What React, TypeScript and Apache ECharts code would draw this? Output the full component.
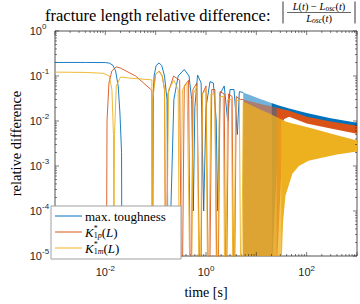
import React, { useEffect, useRef } from "react";
import * as echarts from "echarts";

// ---------- data ----------
const seriesNames = ["max. toughness", "K1p", "K1m"];
const colors = ["#0072BD", "#D95319", "#EDB120"];

const xMajorTicks = [1e-3, 1e-2, 1e-1, 1e0, 1e1, 1e2, 1e3];
const xLabelExps = [-2, 0, 2];
const yMajorTicks = [1e-5, 1e-4, 1e-3, 1e-2, 1e-1, 1e0];
const yLabelExps = [-5, -4, -3, -2, -1, 0];

// individual arches (time [s], relative difference)
const toughness: [number, number][] = [
  [1e-3, 0.2], [0.004, 0.2], [0.01, 0.199], [0.012, 0.193], [0.014, 0.175], [0.016, 0.13],
  [0.018, 0.06], [0.0195, 0.015], [0.021, 0.002], [0.0215, 1e-7],
  [0.085, 1e-7], [0.088, 0.02], [0.093, 0.1], [0.102, 0.17], [0.117, 0.195], [0.132, 0.17],
  [0.15, 0.1], [0.168, 0.03], [0.18, 1e-7],
  [0.2, 1e-4], [0.23, 0.03], [0.28, 0.1], [0.37, 0.14], [0.46, 0.1], [0.52, 0.03], [0.56, 1e-4],
  [0.6, 0.02], [0.68, 0.105], [0.8, 0.07], [0.9, 1e-4],
  [1.0, 0.02], [1.2, 0.075], [1.4, 0.07], [1.6, 0.01], [1.7, 1e-4],
  [1.9, 0.04], [2.3, 0.06], [2.7, 0.01], [3.0, 0.05], [3.6, 0.05], [4.2, 0.005], [4.6, 0.045], [5.5, 0.043],
];
const k1p: [number, number][] = [
  [0.0104, 1e-7], [0.0108, 0.01], [0.0118, 0.07], [0.0135, 0.13], [0.0165, 0.16], [0.02, 0.15],
  [0.04, 0.1], [0.084, 0.048], [0.086, 1e-7], [0.087, 1e-7], [0.09, 0.05], [0.1, 0.11], [0.117, 0.128],
  [0.135, 0.1], [0.15, 0.05], [0.16, 1e-7],
  [0.175, 0.04], [0.227, 0.1], [0.3, 0.08], [0.33, 1e-7], [0.37, 0.06], [0.45, 0.08], [0.5, 1e-7],
  [0.55, 0.05], [0.66, 0.07], [0.78, 1e-7], [0.85, 0.04], [1.0, 0.06], [1.15, 1e-7], [1.3, 0.05],
  [1.5, 0.05], [1.7, 1e-7], [1.9, 0.045], [2.3, 0.04], [2.5, 1e-7], [2.8, 0.04], [3.3, 0.035], [3.6, 1e-7],
  [4.0, 0.035], [4.8, 0.03], [5.5, 0.03],
];
const k1m: [number, number][] = [
  [1e-3, 0.122], [0.004, 0.12], [0.009, 0.115], [0.012, 0.1], [0.0135, 0.05], [0.0145, 0.005],
  [0.0148, 1e-7], [0.0152, 0.005], [0.0165, 0.06], [0.02, 0.095], [0.03, 0.09], [0.084, 0.082],
  [0.086, 1e-7], [0.088, 0.03], [0.1, 0.11], [0.117, 0.128], [0.135, 0.1], [0.15, 0.05], [0.16, 1e-7],
  [0.18, 0.05], [0.23, 0.08], [0.28, 0.05], [0.3, 1e-7], [0.34, 0.05], [0.42, 0.07], [0.5, 1e-7],
  [0.56, 0.04], [0.66, 0.06], [0.75, 1e-7], [0.85, 0.04], [1.0, 0.05], [1.1, 1e-7], [1.25, 0.04],
  [1.5, 0.04], [1.65, 1e-7], [1.85, 0.035], [2.2, 0.035], [2.4, 1e-7], [2.7, 0.03], [3.2, 0.03],
  [3.5, 1e-7], [3.9, 0.03], [4.6, 0.028], [5.0, 1e-7], [5.5, 0.027],
];

// dense oscillations that still dip to zero: (time, upper envelope)
const toughnessDips: [number, number][] = [[5.5, 0.043], [12, 0.031], [20, 0.025]];
const k1pDips: [number, number][] = [[5.5, 0.03], [12, 0.024], [25, 0.02]];
const k1mDips: [number, number][] = [[5.5, 0.027], [12, 0.018], [20, 0.014], [31, 0.011]];

// dense oscillations, solid band: (time, upper envelope, lower envelope)
const toughnessBand: [number, number, number][] = [
  [20, 0.025, 1e-6], [28, 0.022, 0.008], [45, 0.019, 0.015], [100, 0.015, 0.012], [300, 0.0115, 0.0092], [1000, 0.0091, 0.0071],
];
const k1pBand: [number, number, number][] = [
  [25, 0.02, 1e-6], [35, 0.018, 0.011], [45, 0.017, 0.0125], [100, 0.0125, 0.0088], [300, 0.0098, 0.0068], [1000, 0.0078, 0.0052],
];
const k1mBand: [number, number, number][] = [
  [31, 0.011, 1e-6], [34, 0.0105, 6e-5], [38, 0.0098, 0.00022], [52, 0.0088, 0.00067], [70, 0.0082, 0.001],
  [109, 0.0072, 0.0013], [190, 0.0061, 0.0015], [400, 0.0048, 0.0018], [1000, 0.0037, 0.0021],
];

const SERIF = "'Liberation Serif', 'DejaVu Serif', serif";
const SANS = "'Liberation Sans', Arial, sans-serif";
const AX = "#262626";

let ctx2d: CanvasRenderingContext2D | null = null;
const tw = (text: string, font: string) => {
  if (!ctx2d) ctx2d = document.createElement("canvas").getContext("2d");
  if (!ctx2d) return text.length * 6;
  ctx2d.font = font;
  return ctx2d.measureText(text).width;
};

type Tok = { t: string; f: string; dy?: number; stack?: Tok };
// lays out tokens left-to-right; a token may carry a stacked partner (super/sub at same x)
const layoutTokens = (toks: Tok[], x: number, y: number, z = 101) => {
  const els: any[] = [];
  let cx = x;
  for (const k of toks) {
    els.push({ type: "text", x: cx, y: y + (k.dy || 0), z, style: { text: k.t, font: k.f, fill: "#000", verticalAlign: "middle" } });
    let w = tw(k.t, k.f);
    if (k.stack) {
      els.push({ type: "text", x: cx, y: y + (k.stack.dy || 0), z, style: { text: k.stack.t, font: k.stack.f, fill: "#000", verticalAlign: "middle" } });
      w = Math.max(w, tw(k.stack.t, k.stack.f));
    }
    cx += w;
  }
  return { els, width: cx - x };
};

export default function App() {
  const ref = useRef<HTMLDivElement>(null);
  useEffect(() => {
    if (!ref.current) return;
    const chart = echarts.init(ref.current, undefined, { renderer: "svg" });

    const bandSeries = (band: [number, number, number][], color: string, opacity: number) => ({
      type: "custom",
      clip: true,
      silent: true,
      data: [0],
      renderItem: (_p: any, api: any) => {
        const up = band.map((d) => api.coord([d[0], d[1]]));
        const lo = band.map((d) => api.coord([d[0], Math.max(d[2], 3e-6)])).reverse();
        return {
          type: "polygon",
          shape: { points: up.concat(lo) },
          style: { fill: color, opacity },
        };
      },
    });
    const dipSeries = (dips: [number, number][], color: string, opacity: number) =>
      bandSeries(dips.map((d) => [d[0], d[1], 1e-6] as [number, number, number]), color, opacity);

    const tickLine = (x1: number, y1: number, x2: number, y2: number) => ({
      type: "line", shape: { x1, y1, x2, y2 }, style: { stroke: AX, lineWidth: 0.6 },
    });
    const BASEF = `11px ${SANS}`;
    const EXPF = `8px ${SANS}`;

    const xTickSeries = {
      type: "custom",
      silent: true,
      clip: false,
      data: xMajorTicks.map((v) => [v]),
      renderItem: (_p: any, api: any) => {
        const v = api.value(0);
        const e = Math.round(Math.log10(v));
        const b = api.coord([v, 1e-5]);
        const t = api.coord([v, 1]);
        const children: any[] = [tickLine(b[0], b[1], b[0], b[1] - 4), tickLine(t[0], t[1], t[0], t[1] + 4)];
        if (v < 1e3) {
          for (let m = 2; m <= 9; m++) {
            const bb = api.coord([v * m, 1e-5]);
            const tt = api.coord([v * m, 1]);
            children.push(tickLine(bb[0], bb[1], bb[0], bb[1] - 2));
            children.push(tickLine(tt[0], tt[1], tt[0], tt[1] + 2));
          }
        }
        if (xLabelExps.indexOf(e) >= 0) {
          const w1 = tw("10", BASEF);
          const w2 = tw(String(e), EXPF);
          const x0 = b[0] - (w1 + w2) / 2;
          children.push({ type: "text", x: x0, y: b[1] + 21, style: { text: "10", fill: AX, font: BASEF, align: "left", verticalAlign: "bottom" } });
          children.push({ type: "text", x: x0 + w1, y: b[1] + 16, style: { text: String(e), fill: AX, font: EXPF, align: "left", verticalAlign: "bottom" } });
        }
        return { type: "group", children };
      },
    };

    const yTickSeries = {
      type: "custom",
      silent: true,
      clip: false,
      data: yMajorTicks.map((v) => [v]),
      renderItem: (_p: any, api: any) => {
        const v = api.value(0);
        const e = Math.round(Math.log10(v));
        const l = api.coord([1e-3, v]);
        const r = api.coord([1e3, v]);
        const children: any[] = [tickLine(l[0], l[1], l[0] + 4, l[1]), tickLine(r[0], r[1], r[0] - 4, r[1])];
        if (v < 1) {
          for (let m = 2; m <= 9; m++) {
            const ll = api.coord([1e-3, v * m]);
            const rr = api.coord([1e3, v * m]);
            children.push(tickLine(ll[0], ll[1], ll[0] + 2, ll[1]));
            children.push(tickLine(rr[0], rr[1], rr[0] - 2, rr[1]));
          }
        }
        if (yLabelExps.indexOf(e) >= 0) {
          children.push({ type: "text", x: l[0] - 13, y: l[1] + 5, style: { text: "10", fill: AX, font: BASEF, align: "right", verticalAlign: "bottom" } });
          children.push({ type: "text", x: l[0] - 13, y: l[1] - 1, style: { text: String(e), fill: AX, font: EXPF, align: "left", verticalAlign: "bottom" } });
        }
        return { type: "group", children };
      },
    };

    const lineSeries = (name: string, data: [number, number][], color: string) => ({
      name,
      type: "line",
      data,
      showSymbol: false,
      clip: true,
      lineStyle: { color, width: 0.9 },
      itemStyle: { color },
    });

    // ---------- legend (drawn) ----------
    const legX = 51, legY = 206;
    const legRow = (i: number) => legY + 10 + i * 16;
    const F = `13px ${SERIF}`;
    const FI = `italic 13px ${SERIF}`;
    const FS = `8px ${SERIF}`;
    const FSI = `italic 8px ${SERIF}`;
    const kTokens = (sub: string): Tok[] => [
      { t: "K", f: FI },
      { t: "*", f: FS, dy: -4, stack: { t: "1", f: FS, dy: 3.5 } },
      { t: sub, f: FSI, dy: 3.5 },
      { t: "(", f: F },
      { t: "L", f: FI },
      { t: ")", f: F },
    ];
    const row1 = layoutTokens(kTokens("p"), legX + 34, legRow(1));
    const row2 = layoutTokens(kTokens("m"), legX + 34, legRow(2));

    // ---------- title fraction ----------
    const NF = `10.5px ${SERIF}`;
    const NI = `italic 10.5px ${SERIF}`;
    const SI = `italic 7.5px ${SERIF}`;
    const numToks: Tok[] = [
      { t: "L", f: NI }, { t: "(", f: NF }, { t: "t", f: NI }, { t: ")", f: NF }, { t: " − ", f: NF },
      { t: "L", f: NI }, { t: "osc", f: SI, dy: 2 }, { t: "(", f: NF }, { t: "t", f: NI }, { t: ")", f: NF },
    ];
    const denToks: Tok[] = [
      { t: "L", f: NI }, { t: "osc", f: SI, dy: 2 }, { t: "(", f: NF }, { t: "t", f: NI }, { t: ")", f: NF },
    ];
    const fracCx = 319;
    const numW = layoutTokens(numToks, 0, 0).width;
    const denW = layoutTokens(denToks, 0, 0).width;
    const num = layoutTokens(numToks, fracCx - numW / 2, 6.5, 1);
    const den = layoutTokens(denToks, fracCx - denW / 2, 18, 1);

    const graphic: any[] = [
      { type: "rect", shape: { x: legX, y: legY, width: 130, height: 53 }, style: { fill: "#fff", stroke: "#a0a0a0", lineWidth: 1 }, z: 100 },
      ...colors.map((c, i) => ({ type: "line", shape: { x1: legX + 4, y1: legRow(i), x2: legX + 31, y2: legRow(i) }, style: { stroke: c, lineWidth: 1 }, z: 101 })),
      { type: "text", x: legX + 34, y: legRow(0), style: { text: seriesNames[0], font: F, fill: "#000", verticalAlign: "middle" }, z: 101 },
      ...row1.els,
      ...row2.els,
      // title
      { type: "text", x: 45, y: 15, style: { text: "fracture length relative difference:", font: `16.5px ${SERIF}`, fill: "#000", verticalAlign: "middle" } },
      { type: "line", shape: { x1: 283, y1: 1.5, x2: 283, y2: 23.5 }, style: { stroke: "#000", lineWidth: 0.8 } },
      { type: "line", shape: { x1: 355, y1: 1.5, x2: 355, y2: 23.5 }, style: { stroke: "#000", lineWidth: 0.8 } },
      { type: "line", shape: { x1: 287, y1: 12.5, x2: 351, y2: 12.5 }, style: { stroke: "#000", lineWidth: 0.6 } },
      ...num.els,
      ...den.els,
    ];

    chart.setOption({
      animation: false,
      grid: { left: 44, top: 31, width: 313, height: 235, show: true, borderColor: AX, borderWidth: 0.8, backgroundColor: "transparent" },
      xAxis: {
        type: "log", logBase: 10, min: 1e-3, max: 1e3,
        axisLine: { show: false }, axisTick: { show: false }, axisLabel: { show: false }, splitLine: { show: false },
        name: "time [s]", nameLocation: "middle", nameGap: 29,
        nameTextStyle: { fontFamily: SERIF, fontSize: 14, color: "#000" },
      },
      yAxis: {
        type: "log", logBase: 10, min: 1e-5, max: 1,
        axisLine: { show: false }, axisTick: { show: false }, axisLabel: { show: false }, splitLine: { show: false },
        name: "relative difference", nameLocation: "middle", nameGap: 32, nameRotate: 90,
        nameTextStyle: { fontFamily: SERIF, fontSize: 14.5, color: "#000" },
      },
      series: [
        lineSeries(seriesNames[0], toughness, colors[0]),
        dipSeries(toughnessDips, colors[0], 0.55),
        bandSeries(toughnessBand, colors[0], 1),
        lineSeries(seriesNames[1], k1p, colors[1]),
        dipSeries(k1pDips, colors[1], 0.55),
        bandSeries(k1pBand, colors[1], 1),
        lineSeries(seriesNames[2], k1m, colors[2]),
        dipSeries(k1mDips, colors[2], 0.75),
        bandSeries(k1mBand, colors[2], 1),
        xTickSeries,
        yTickSeries,
      ],
      graphic,
    });
    return () => chart.dispose();
  }, []);
  return (
    <div style={{ position: "fixed", left: 0, top: 0, width: 360, height: 304, background: "#fff" }}>
      <div ref={ref} style={{ width: 360, height: 304 }} />
    </div>
  );
}
